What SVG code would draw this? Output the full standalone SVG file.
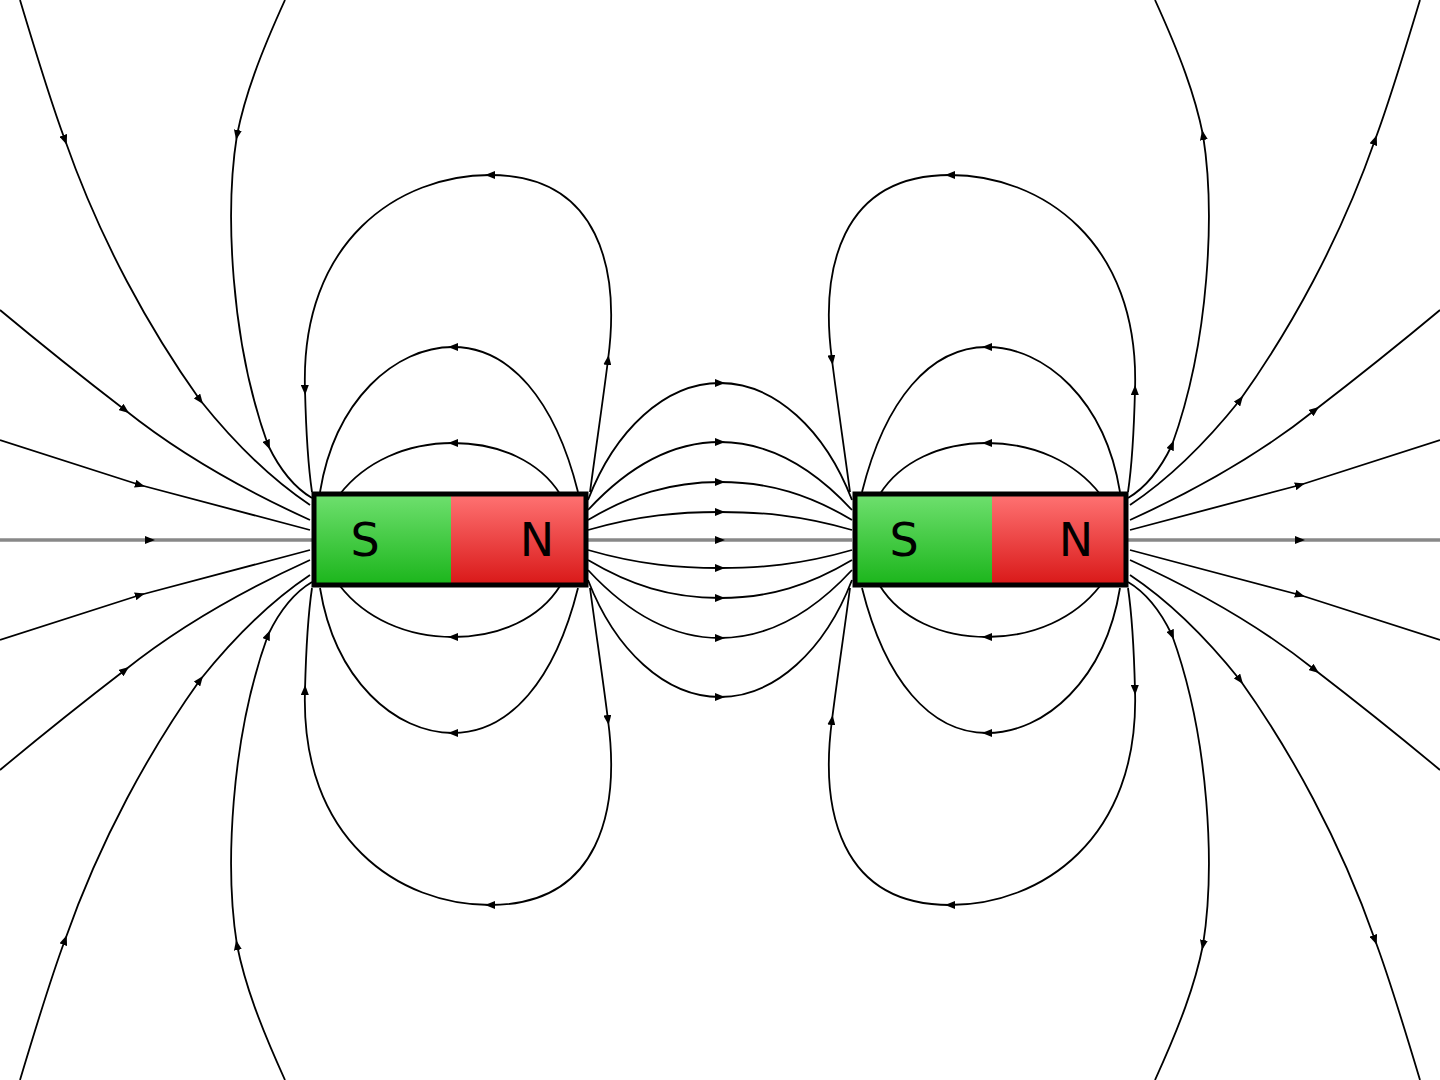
<svg xmlns="http://www.w3.org/2000/svg" xmlns:xlink="http://www.w3.org/1999/xlink" width="1440" height="1080" viewBox="0 0 1440 1080">
<style>
.f{fill:none;stroke:#000;stroke-width:1.8;marker-mid:url(#a)}
.c{fill:none;stroke:#888;stroke-width:3.5;marker-mid:url(#a)}
.m{stroke:#000;stroke-width:5}
.t{font-family:"DejaVu Sans",sans-serif;font-size:46px;fill:#000;text-anchor:middle}
</style>
<defs>
<marker id="a" markerUnits="userSpaceOnUse" markerWidth="10" markerHeight="8" refX="5" refY="4" orient="auto" viewBox="0 0 10 8"><path d="M0,0 L10,4 L0,8 z" fill="#000"/></marker>
<linearGradient id="g" x1="0" y1="0" x2="0" y2="1"><stop offset="0" stop-color="#6fe06f"/><stop offset="1" stop-color="#1bb51b"/></linearGradient>
<linearGradient id="r" x1="0" y1="0" x2="0" y2="1"><stop offset="0" stop-color="#ff7373"/><stop offset="1" stop-color="#d91818"/></linearGradient>
</defs>
<g id="connectors">
<g id="upper">
<path class="f" d="M560 494 C540 462 500 443 453 443 C406 443 365 462 340 494"/>
<path class="f" d="M578 492 C555 400 510 347 453 347 C395 347 335 400 320 492"/>
<path class="f" d="M590 492 C597 440 603 400 608 360 C620 270 600 175 490 175 C400 175 300 240 305 390 C306 430 308 465 312 492"/>
<path class="f" d="M0 440 L140 485 L310 530"/>
<path class="f" d="M0 310 Q60 360 125 410 Q200 470 310 520"/>
<path class="f" d="M20 0 C35 50 50 100 65 140 C100 240 150 330 200 400 C240 450 280 485 310 505"/>
<path class="f" d="M285 0 C260 55 245 95 237 135 C225 210 230 340 268 445 C280 470 295 488 312 498"/>
<path class="f" d="M588 530 C640 515 680 512 720 512 C760 512 800 515 852 530"/>
<path class="f" d="M588 520 C630 495 670 482 720 482 C770 482 810 495 852 520"/>
<path class="f" d="M588 510 C625 470 670 442 720 442 C770 442 815 470 852 510"/>
<path class="f" d="M588 500 C615 430 665 383 720 383 C775 383 825 430 852 500"/>
<path class="f" d="M1100 494 C1075 462 1034 443 987 443 C940 443 900 462 880 494"/>
<path class="f" d="M1120 492 C1105 400 1045 347 987 347 C930 347 885 400 862 492"/>
<path class="f" d="M1128 492 C1132 465 1134 430 1135 390 C1140 240 1040 175 950 175 C840 175 820 270 832 360 C837 400 843 440 850 492"/>
<path class="f" d="M1130 530 L1300 485 L1440 440"/>
<path class="f" d="M1130 520 Q1240 470 1315 410 Q1380 360 1440 310"/>
<path class="f" d="M1130 505 C1160 485 1200 450 1240 400 C1290 330 1340 240 1375 140 C1390 100 1405 50 1420 0"/>
<path class="f" d="M1128 498 C1145 488 1160 470 1172 445 C1210 340 1215 210 1203 135 C1195 95 1180 55 1155 0"/>
</g>
<use xlink:href="#upper" href="#upper" transform="matrix(1 0 0 -1 0 1080)"/>
<path class="c" d="M0 540 L150 540 L312 540"/>
<path class="c" d="M588 540 L720 540 L852 540"/>
<path class="c" d="M1128 540 L1300 540 L1440 540"/>
</g>
<g id="magnet1">
<rect x="314" y="494" width="137" height="91" fill="url(#g)"/>
<rect x="451" y="494" width="135" height="91" fill="url(#r)"/>
<rect class="m" x="314" y="494" width="272" height="91" fill="none"/>
<text class="t" x="365" y="556">S</text>
<text class="t" x="537" y="556">N</text>
</g>
<g id="magnet2">
<rect x="855" y="494" width="137" height="91" fill="url(#g)"/>
<rect x="992" y="494" width="134" height="91" fill="url(#r)"/>
<rect class="m" x="855" y="494" width="271" height="91" fill="none"/>
<text class="t" x="904" y="556">S</text>
<text class="t" x="1076" y="556">N</text>
</g>
</svg>
